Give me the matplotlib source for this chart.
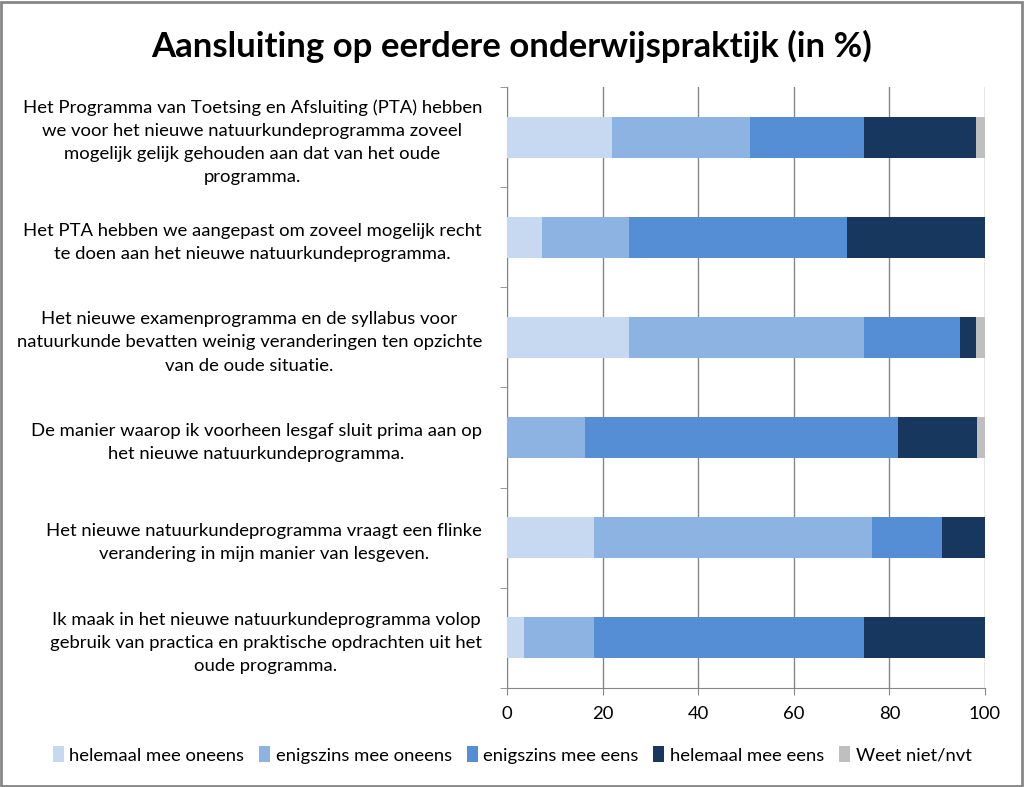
import matplotlib
matplotlib.use('Agg')
import matplotlib.pyplot as plt
import numpy as np

plt.rcParams['font.family'] = ['Lato', 'DejaVu Sans']

statements = [
    'Het Programma van Toetsing en Afsluiting (PTA) hebben\nwe voor het nieuwe natuurkundeprogramma zoveel\nmogelijk gelijk gehouden aan dat van het oude\nprogramma.',
    'Het PTA hebben we aangepast om zoveel mogelijk recht\nte doen aan het nieuwe natuurkundeprogramma.',
    'Het nieuwe examenprogramma en de syllabus voor\nnatuurkunde bevatten weinig veranderingen ten opzichte\nvan de oude situatie.',
    'De manier waarop ik voorheen lesgaf sluit prima aan op\nhet nieuwe natuurkundeprogramma.',
    'Het nieuwe natuurkundeprogramma vraagt een flinke\nverandering in mijn manier van lesgeven.',
    'Ik maak in het nieuwe natuurkundeprogramma volop\ngebruik van practica en praktische opdrachten uit het\noude programma.',
]

categories = ['helemaal mee oneens', 'enigszins mee oneens', 'enigszins mee eens',
              'helemaal mee eens', 'Weet niet/nvt']

helemaal_oneens = [21.9, 7.3, 25.5, 0.0, 18.2, 3.6]
enigszins_oneens = [28.9, 18.2, 49.2, 16.3, 58.2, 14.6]
enigszins_eens = [23.9, 45.6, 20.1, 65.6, 14.7, 56.5]
helemaal_eens = [23.4, 28.9, 3.3, 16.5, 8.9, 25.3]
weet_niet = [1.9, 0.0, 1.9, 1.6, 0.0, 0.0]

colors = ['#c6d9f1', '#8db3e2', '#558ed5', '#17375e', '#bfbfbf']

series = [helemaal_oneens, enigszins_oneens, enigszins_eens, helemaal_eens, weet_niet]

fig = plt.figure(figsize=(10.24, 7.87), dpi=100)
ax = fig.add_axes([507 / 1024, 1 - 688 / 787, 478 / 1024, 601 / 787])

y = np.arange(len(statements))[::-1]
left = np.zeros(len(statements))
for vals, name, col in zip(series, categories, colors):
    vals = np.array(vals)
    ax.barh(y, vals, left=left, height=0.41, color=col, label=name, zorder=3)
    left += vals

ax.set_xlim(0, 100)
ax.set_ylim(-0.5, 5.5)
ax.set_xticks([0, 20, 40, 60, 80, 100])
ax.xaxis.grid(True, color='#868686', linewidth=1, zorder=0)

ax.set_yticks(y)
ax.set_yticklabels(statements, fontsize=13.3, multialignment='center', linespacing=1.55)
ax.set_yticks(np.arange(-0.5, 6, 1), minor=True)
ax.tick_params(axis='y', which='major', length=0, pad=18)
ax.tick_params(axis='y', which='minor', length=5, color='#868686')
ax.tick_params(axis='x', length=5, color='#868686', labelsize=13.3, pad=8)

for side in ['top', 'right']:
    ax.spines[side].set_visible(False)
for side in ['left', 'bottom']:
    ax.spines[side].set_color('#868686')

fig.suptitle('Aansluiting op eerdere onderwijspraktijk (in %)', fontsize=25,
             fontweight='bold', y=0.962)

fig.legend(loc='center', bbox_to_anchor=(0.5, 1 - 755 / 787), ncol=5, frameon=False,
           fontsize=13.3, handlelength=0.6, handleheight=0.9, handletextpad=0.3,
           columnspacing=0.8)

fig.patches.append(plt.Rectangle((0.001, 0.001), 0.997, 0.997, transform=fig.transFigure,
                                 fill=False, edgecolor='#868686', linewidth=2))

fig.savefig('out.png', dpi=100)
